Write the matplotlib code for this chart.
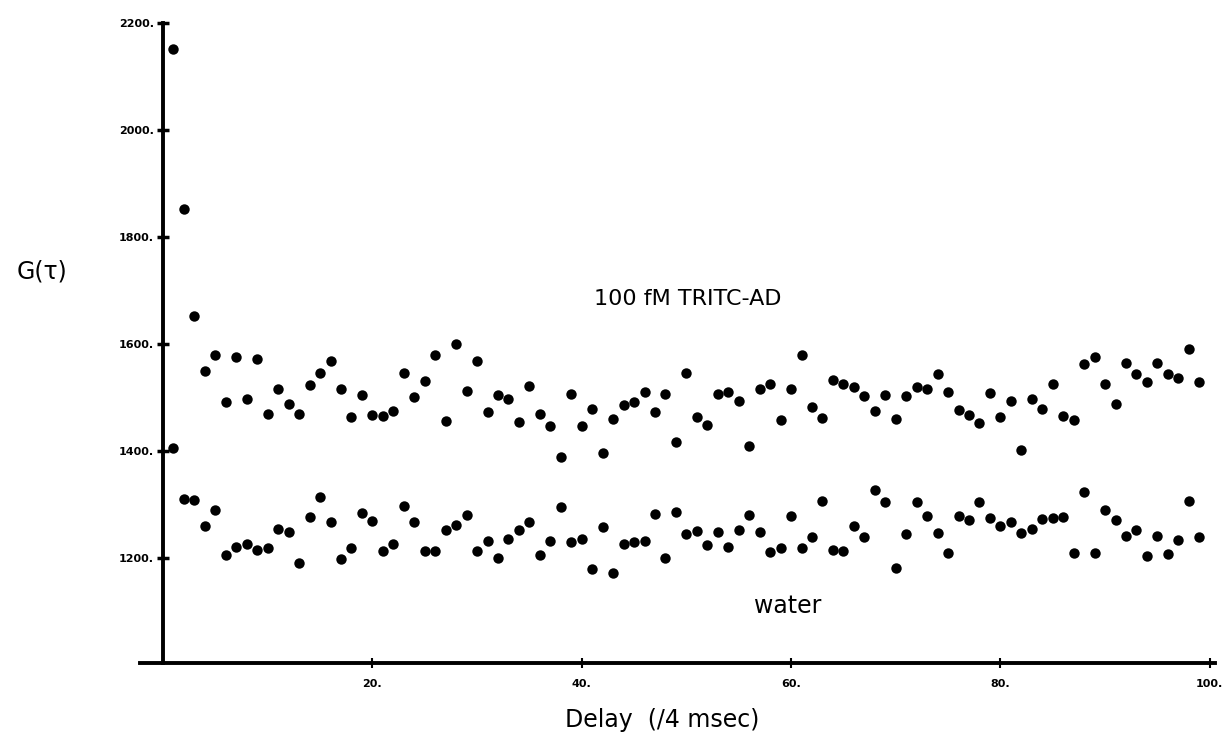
import matplotlib
matplotlib.use("Agg")
import matplotlib.pyplot as plt
import numpy as np

# delay channels 1..99
delay = np.arange(1, 100)

# 100 fM TRITC-AD (upper set of points)
g_tritc = [2150, 1852, 1652, 1549, 1579, 1491, 1575, 1497, 1572, 1470,
           1515, 1488, 1470, 1524, 1545, 1568, 1516, 1463, 1505, 1467,
           1466, 1475, 1546, 1500, 1531, 1579, 1456, 1600, 1512, 1569,
           1472, 1504, 1497, 1455, 1521, 1470, 1447, 1388, 1506, 1446,
           1479, 1396, 1460, 1485, 1491, 1510, 1473, 1507, 1416, 1546,
           1464, 1449, 1507, 1511, 1494, 1410, 1515, 1525, 1457, 1515,
           1580, 1482, 1461, 1532, 1526, 1520, 1503, 1475, 1505, 1459,
           1502, 1519, 1515, 1543, 1510, 1477, 1467, 1452, 1509, 1464,
           1494, 1401, 1498, 1479, 1525, 1465, 1457, 1563, 1575, 1526,
           1487, 1564, 1544, 1528, 1565, 1543, 1536, 1590, 1529]

# water (lower set of points)
g_water = [1406, 1311, 1309, 1259, 1289, 1206, 1220, 1226, 1216, 1219,
           1254, 1249, 1190, 1276, 1314, 1268, 1199, 1219, 1285, 1270,
           1214, 1226, 1298, 1268, 1213, 1213, 1252, 1262, 1280, 1214,
           1231, 1200, 1235, 1253, 1267, 1206, 1232, 1295, 1230, 1235,
           1180, 1258, 1173, 1227, 1230, 1231, 1283, 1201, 1286, 1245,
           1250, 1224, 1248, 1221, 1253, 1281, 1248, 1211, 1219, 1278,
           1219, 1240, 1306, 1216, 1214, 1260, 1239, 1327, 1304, 1181,
           1245, 1304, 1278, 1247, 1209, 1278, 1271, 1304, 1275, 1260,
           1268, 1247, 1254, 1273, 1274, 1276, 1210, 1323, 1209, 1290,
           1271, 1241, 1253, 1203, 1242, 1208, 1234, 1307, 1239]

yticks = [1200, 1400, 1600, 1800, 2000, 2200]
xticks = [20, 40, 60, 80, 100]

fig = plt.figure(figsize=(12.29, 7.43), dpi=100)
ax = fig.add_axes([140 / 1229, 80 / 743, 1075 / 1229, 640.3 / 743])

ax.plot(delay, g_tritc, "o", color="black", markersize=7.5, markeredgewidth=0)
ax.plot(delay, g_water, "o", color="black", markersize=7.5, markeredgewidth=0)

ax.set_xlim(-2.2, 100.5)
ax.set_ylim(1004, 2200)

ax.spines["top"].set_visible(False)
ax.spines["right"].set_visible(False)
ax.spines["left"].set_position(("data", 0))
ax.spines["left"].set_linewidth(2.8)
ax.spines["bottom"].set_linewidth(2.8)

ax.set_yticks(yticks)
ax.set_yticklabels([f"{v}." for v in yticks], fontsize=8, fontweight="bold")
ax.set_xticks(xticks)
ax.set_xticklabels([f"{v}." for v in xticks], fontsize=8, fontweight="bold")
ax.tick_params(axis="y", direction="inout", length=9, width=2.5, pad=2)
ax.tick_params(axis="x", direction="inout", length=7, width=1.5, pad=8)

ax.text(50.1, 1684, "100 fM TRITC-AD", fontsize=16, ha="center", va="center")
ax.text(59.7, 1110, "water", fontsize=17, ha="center", va="center")

fig.text(42 / 1229, 1 - 271 / 743, "G(τ)", fontsize=17, ha="center", va="center")
fig.text(662 / 1229, 1 - 720 / 743, "Delay  (/4 msec)", fontsize=17,
         ha="center", va="center")

fig.savefig("out.png", dpi=100)
